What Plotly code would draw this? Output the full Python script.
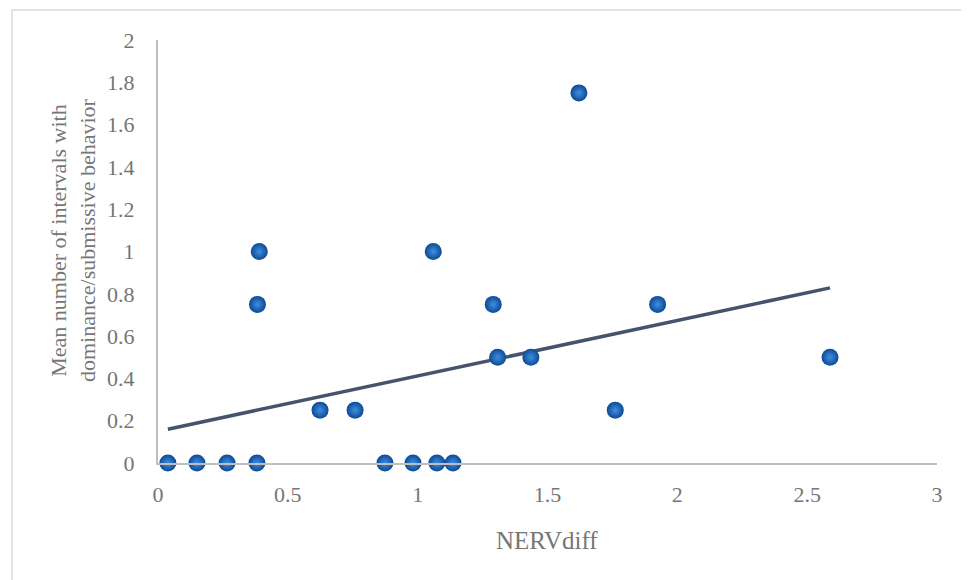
import numpy as np
import plotly.graph_objects as go

# Data
nerv_diff = [0.038, 0.150, 0.266, 0.381, 0.874, 0.982, 1.074, 1.136,
             0.624, 0.759, 1.761,
             0.383, 1.291, 1.924,
             0.390, 1.060,
             1.308, 1.436, 2.588,
             1.621]
mean_intervals = [0, 0, 0, 0, 0, 0, 0, 0,
                  0.25, 0.25, 0.25,
                  0.75, 0.75, 0.75,
                  1.0, 1.0,
                  0.5, 0.5, 0.5,
                  1.75]
x_ticks = [0, 0.5, 1, 1.5, 2, 2.5, 3]
y_ticks = [0, 0.2, 0.4, 0.6, 0.8, 1, 1.2, 1.4, 1.6, 1.8, 2]

# page offset (browser body margin)
OFF = 8
W, H = 969 - OFF, 580 - OFF
# plot area in page pixels
PL, PR, PT, PB = 158, 937, 40, 463
ML, MR, MT, MB = PL - OFF, W - (PR - OFF), PT - OFF, H - (PB - OFF)
pw = PR - PL
ph = PB - PT


def px(xp):
    return (xp - PL) / pw


def py(yp):
    return (PB - yp) / ph


FONT = "Liberation Serif"
GREY = "#767676"

# linear trendline
slope, intercept = np.polyfit(nerv_diff, mean_intervals, 1)
tx = [min(nerv_diff), max(nerv_diff)]
ty = [slope * v + intercept for v in tx]

fig = go.Figure()
fig.add_trace(go.Scatter(
    x=tx, y=ty, mode="lines",
    line=dict(color="#44546A", width=3.5),
    hoverinfo="skip", showlegend=False,
))
fig.add_trace(go.Scatter(
    x=nerv_diff, y=mean_intervals, mode="markers",
    marker=dict(size=17, color="#0d4a94",
                gradient=dict(type="radial", color="#3f8fe0"),
                line=dict(width=0)),
    cliponaxis=False, showlegend=False,
))

fig.update_layout(
    width=W, height=H,
    margin=dict(l=ML, r=MR, t=MT, b=MB),
    paper_bgcolor="white", plot_bgcolor="white",
    font=dict(family=FONT, color=GREY),
    xaxis=dict(range=[0, 3], tickvals=x_ticks, ticktext=[f"{v:g}" for v in x_ticks],
               showgrid=False, zeroline=False, showline=True,
               linecolor="#BFBFBF", linewidth=2, ticks="",
               tickfont=dict(size=22, color=GREY, family=FONT),
               ticklabelstandoff=11),
    yaxis=dict(range=[0, 2], tickvals=y_ticks, ticktext=[f"{v:g}" for v in y_ticks],
               showgrid=False, zeroline=False, showline=True,
               linecolor="#BFBFBF", linewidth=2, ticks="",
               tickfont=dict(size=22, color=GREY, family=FONT),
               ticklabelstandoff=17),
    shapes=[dict(type="rect", xref="paper", yref="paper",
                 x0=px(12), x1=px(990),
                 y0=py(600), y1=py(10),
                 line=dict(color="#D9D9D9", width=1.5), layer="below")],
    annotations=[
        dict(text="NERVdiff", xref="paper", yref="paper",
             x=px(547), y=py(540), showarrow=False,
             font=dict(size=25, color=GREY, family=FONT),
             xanchor="center", yanchor="middle"),
        dict(text="Mean number of intervals with<br>dominance/submissive behavior",
             xref="paper", yref="paper",
             x=px(73), y=py(240), showarrow=False,
             textangle=-90, font=dict(size=22, color=GREY, family=FONT),
             xanchor="center", yanchor="middle"),
    ],
)

fig.write_html("out.html")
